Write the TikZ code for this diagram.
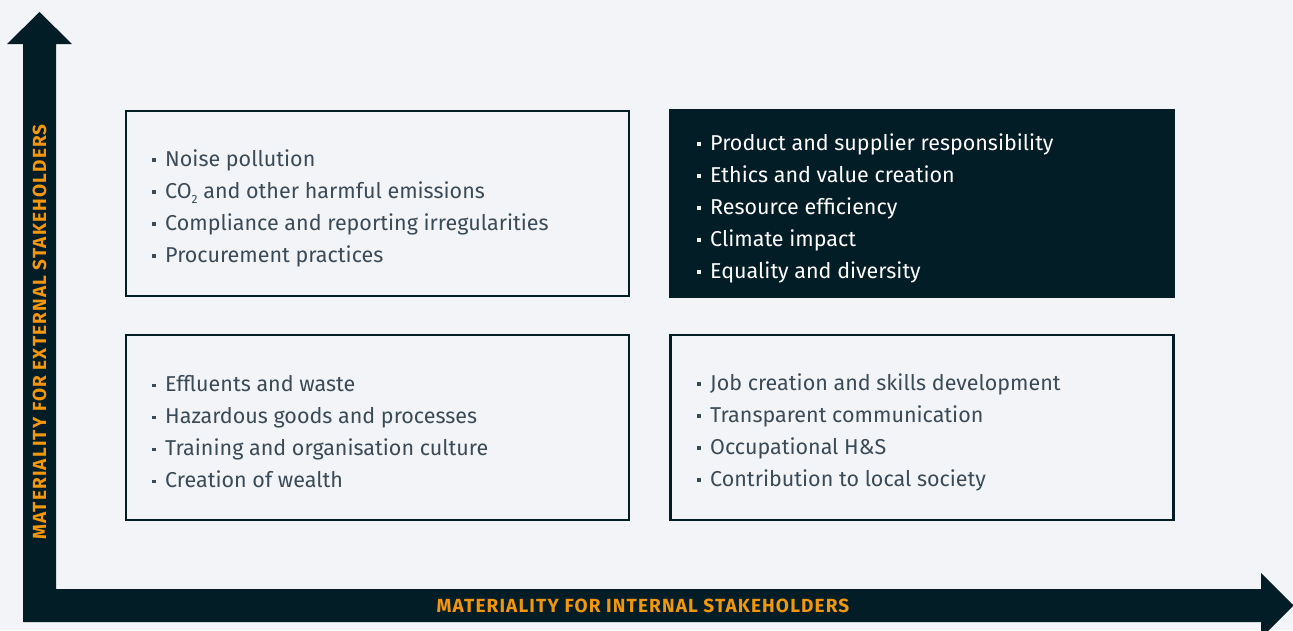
\documentclass[tikz,border=0pt]{standalone}
\usepackage{fontspec}
\setmainfont{Fira Sans}
\newfontfamily\axisfont[LetterSpace=6]{Fira Sans}
\definecolor{bgcol}{HTML}{F2F4F8}
\definecolor{navy}{HTML}{021D26}
\definecolor{slate}{HTML}{3A4A56}
\definecolor{amber}{HTML}{F2960C}
\newcommand\blt{\makebox[13pt][l]{\raisebox{4.5pt}{\rule{3.6pt}{3.6pt}}}}
\newcommand\lowsub[1]{\raisebox{-5pt}{\fontsize{12pt}{12pt}\selectfont #1}}
\tikzset{
  quadbox/.style={draw=navy, line width=2.6pt, minimum width=503pt, minimum height=185pt, inner sep=0pt},
  quadfill/.style={fill=navy, minimum width=506pt, minimum height=189pt, inner sep=0pt},
  itemlist/.style={anchor=west, align=left, inner sep=0pt, font=\fontsize{21.5pt}{32pt}\selectfont},
  axislabel/.style={text=amber, inner sep=0pt, font=\axisfont\bfseries\fontsize{19pt}{21pt}\selectfont}
}
\begin{document}
\begin{tikzpicture}[x=1pt, y=-1pt]
  \path[use as bounding box, fill=bgcol] (0,0) rectangle (1293,630);
  \begin{scope}
    \clip (0,0) rectangle (1293,630);
    % L-shaped pair of axes with arrowheads
    \fill[navy] (23,622) -- (23,44) -- (7,44) -- (39.5,12) -- (72,44) -- (56,44)
      -- (56,589) -- (1261,589) -- (1261,573) -- (1293.5,605.5) -- (1261,638)
      -- (1261,622) -- cycle;
  \end{scope}
  \node[axislabel] (xlabel) at (643,605.5) {MATERIALITY FOR INTERNAL STAKEHOLDERS};
  \node[axislabel, rotate=90] (ylabel) at (39.5,332) {MATERIALITY FOR EXTERNAL STAKEHOLDERS};

  % quadrants
  \node[quadbox] (tl) at (377.5,203.5) {};
  \node[quadfill] (tr) at (922,203.5) {};
  \node[quadbox] (bl) at (377.5,427.5) {};
  \node[quadbox] (br) at (922,427.5) {};

  \node[itemlist, text=slate] (tltext) at (152,208) {%
    \blt Noise pollution\\
    \blt CO\lowsub{2} and other harmful emissions\\
    \blt Compliance and reporting irregularities\\
    \blt Procurement practices};
  \node[itemlist, text=white] (trtext) at (697,208) {%
    \blt Product and supplier responsibility\\
    \blt Ethics and value creation\\
    \blt Resource efficiency\\
    \blt Climate impact\\
    \blt Equality and diversity};
  \node[itemlist, text=slate] (bltext) at (152,432) {%
    \blt Effluents and waste\\
    \blt Hazardous goods and processes\\
    \blt Training and organisation culture\\
    \blt Creation of wealth};
  \node[itemlist, text=slate] (brtext) at (697,432) {%
    \blt Job creation and skills development\\
    \blt Transparent communication\\
    \blt Occupational H\&S\\
    \blt Contribution to local society};
\end{tikzpicture}
\end{document}
